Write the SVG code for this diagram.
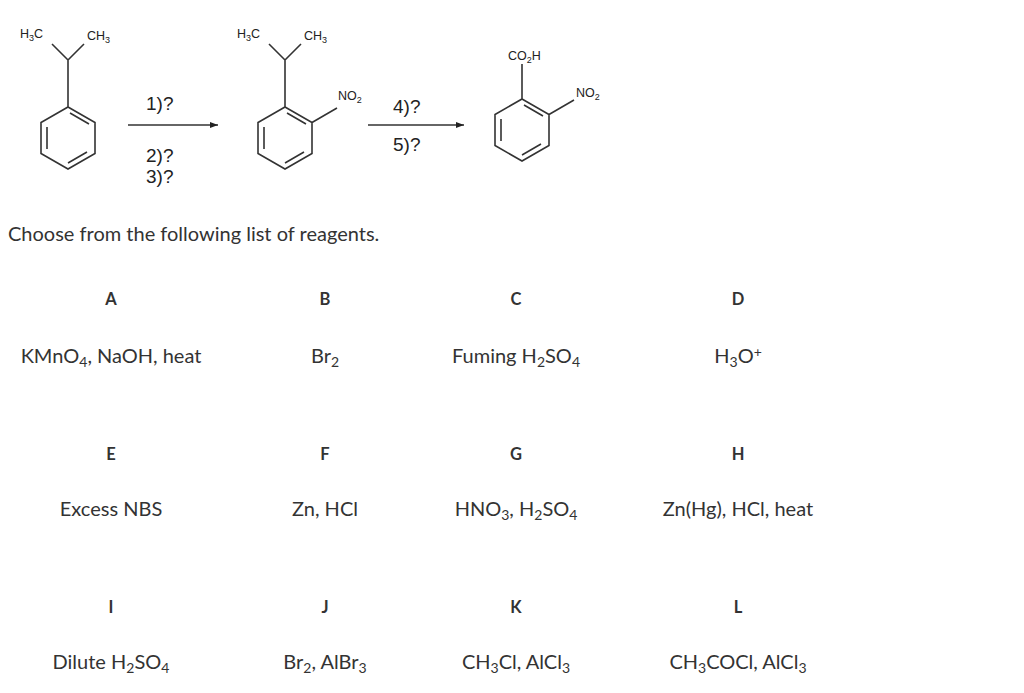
<svg xmlns="http://www.w3.org/2000/svg" width="1024" height="693" viewBox="0 0 1024 693">
<defs><marker id="ah" markerWidth="8" markerHeight="6" refX="8" refY="3" orient="auto" markerUnits="userSpaceOnUse"><path d="M0,0 L8,3 L0,6 Z" fill="#222"/></marker></defs>
<style>
.b{stroke:#333;stroke-width:1.6;fill:none}
.ch{font-family:"Liberation Sans",Arial,sans-serif;font-size:12.5px;fill:#222}
.q{font-family:"Liberation Sans",Arial,sans-serif;font-size:19px;fill:#222}
.t{font-family:Lato,"Liberation Sans",sans-serif;font-size:20px;fill:#333;text-anchor:middle}
.h{font-family:Lato,"Liberation Sans",sans-serif;font-size:16.5px;font-weight:bold;fill:#333;text-anchor:middle}
</style>
<rect width="1024" height="693" fill="#fff"/>
<g id="m1">
<path class="b" d="M68,107 L95,122.5 L95,153.5 L68,169 L41,153.5 L41,122.5 Z M47,127 L47,149 M70,113 L89,124 M68,163 L87,152 M68,107 L68,60 L52,44 M68,60 L84,44"/>
<text class="ch" x="20" y="38">H<tspan font-size="9" dy="3">3</tspan><tspan dy="-3">C</tspan></text>
<text class="ch" x="87" y="40">CH<tspan font-size="9" dy="3">3</tspan></text>
</g>
<g id="m2">
<path class="b" d="M285,107 L312,122.5 L312,153.5 L285,169 L258,153.5 L258,122.5 Z M264,127 L264,149 M287,113 L306,124 M285,163 L304,152 M312,122.5 L337,108 M285,107 L285,60 L269,44 M285,60 L301,44"/>
<text class="ch" x="237" y="38">H<tspan font-size="9" dy="3">3</tspan><tspan dy="-3">C</tspan></text>
<text class="ch" x="304" y="40">CH<tspan font-size="9" dy="3">3</tspan></text>
<text class="ch" x="338" y="100">NO<tspan font-size="9" dy="3">2</tspan></text>
</g>
<g id="m3">
<path class="b" d="M522,99 L549,114.5 L549,145.5 L522,161 L495,145.5 L495,114.5 Z M501,119 L501,141 M524,105 L543,116 M522,155 L541,144 M549,114.5 L574,100 M522,99 L522,64"/>
<text class="ch" x="508" y="60">CO<tspan font-size="9" dy="3">2</tspan><tspan dy="-3">H</tspan></text>
<text class="ch" x="576" y="97">NO<tspan font-size="9" dy="3">2</tspan></text>
</g>
<g id="connectors">
<line class="b" x1="128" y1="125" x2="218" y2="125" marker-end="url(#ah)"/>
<line class="b" x1="368" y1="125" x2="464" y2="125" marker-end="url(#ah)"/>
</g>
<text class="q" x="146" y="110">1)?</text>
<text class="q" x="146" y="162">2)?</text>
<text class="q" x="146" y="183">3)?</text>
<text class="q" x="393" y="113">4)?</text>
<text class="q" x="393" y="151">5)?</text>
<text x="8" y="241" font-family="Lato,'Liberation Sans',sans-serif" font-size="20" fill="#333">Choose from the following list of reagents.</text>
<g class="h">
<text class="h" x="111" y="305">A</text><text class="h" x="325" y="305">B</text><text class="h" x="516" y="305">C</text><text class="h" x="738" y="305">D</text>
<text class="h" x="111" y="460">E</text><text class="h" x="325" y="460">F</text><text class="h" x="516" y="460">G</text><text class="h" x="738" y="460">H</text>
<text class="h" x="111" y="613">I</text><text class="h" x="325" y="613">J</text><text class="h" x="516" y="613">K</text><text class="h" x="738" y="613">L</text>
</g>
<text class="t" x="111" y="363">KMnO<tspan font-size="14" dy="4">4</tspan><tspan dy="-4">, NaOH, heat</tspan></text>
<text class="t" x="325" y="363">Br<tspan font-size="14" dy="4">2</tspan></text>
<text class="t" x="516" y="363">Fuming H<tspan font-size="14" dy="4">2</tspan><tspan dy="-4">SO</tspan><tspan font-size="14" dy="4">4</tspan></text>
<text class="t" x="738" y="363">H<tspan font-size="14" dy="4">3</tspan><tspan dy="-4">O</tspan><tspan font-size="14" dy="-6">+</tspan></text>
<text class="t" x="111" y="516">Excess NBS</text>
<text class="t" x="325" y="516">Zn, HCl</text>
<text class="t" x="516" y="516">HNO<tspan font-size="14" dy="4">3</tspan><tspan dy="-4">, H</tspan><tspan font-size="14" dy="4">2</tspan><tspan dy="-4">SO</tspan><tspan font-size="14" dy="4">4</tspan></text>
<text class="t" x="738" y="516">Zn(Hg), HCl, heat</text>
<text class="t" x="111" y="669">Dilute H<tspan font-size="14" dy="4">2</tspan><tspan dy="-4">SO</tspan><tspan font-size="14" dy="4">4</tspan></text>
<text class="t" x="325" y="669">Br<tspan font-size="14" dy="4">2</tspan><tspan dy="-4">, AlBr</tspan><tspan font-size="14" dy="4">3</tspan></text>
<text class="t" x="516" y="669">CH<tspan font-size="14" dy="4">3</tspan><tspan dy="-4">Cl, AlCl</tspan><tspan font-size="14" dy="4">3</tspan></text>
<text class="t" x="738" y="669">CH<tspan font-size="14" dy="4">3</tspan><tspan dy="-4">COCl, AlCl</tspan><tspan font-size="14" dy="4">3</tspan></text>
</svg>
